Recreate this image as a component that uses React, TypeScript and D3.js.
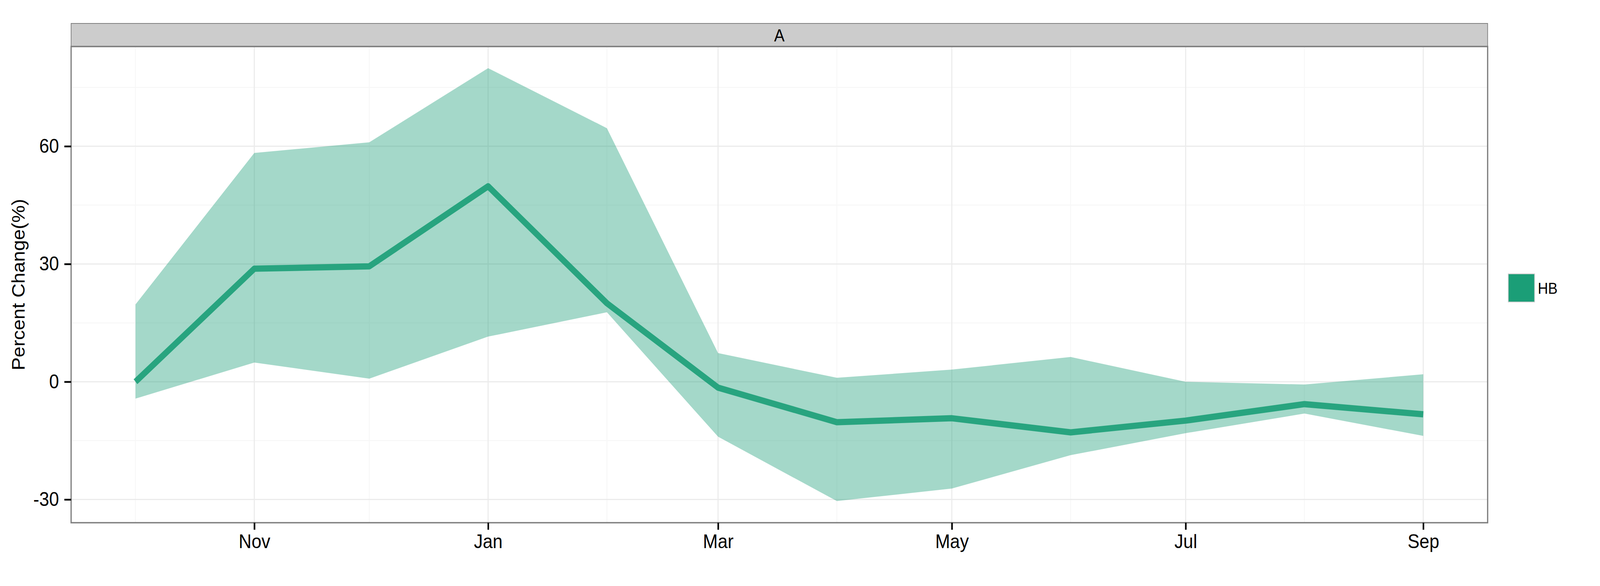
import { useEffect, useRef } from 'react';
import * as d3 from 'd3';

// monthly observations (first of each month)
const months = [
  '2011-10-01', '2011-11-01', '2011-12-01', '2012-01-01', '2012-02-01', '2012-03-01',
  '2012-04-01', '2012-05-01', '2012-06-01', '2012-07-01', '2012-08-01', '2012-09-01',
];
const meanChange = [0, 28.8, 29.4, 49.8, 20.0, -1.5, -10.3, -9.3, -12.9, -9.9, -5.7, -8.3];
const upperBound = [19.7, 58.3, 61.0, 79.9, 64.6, 7.3, 1.0, 3.1, 6.3, 0.0, -0.7, 1.9];
const lowerBound = [-4.3, 4.9, 0.8, 11.5, 17.7, -14.0, -30.4, -27.2, -18.7, -13.1, -8.1, -13.8];

const xMajorTicks = ['2011-11-01', '2012-01-01', '2012-03-01', '2012-05-01', '2012-07-01', '2012-09-01'];
const xMinorTicks = ['2011-10-01', '2011-12-01', '2012-02-01', '2012-04-01', '2012-06-01', '2012-08-01'];
const yMajorTicks = [-30, 0, 30, 60];
const yMinorTicks = [-15, 15, 45, 75];

const seriesName = 'HB';
const facetLabel = 'A';
const yTitle = 'Percent Change(%)';

const WIDTH = 4500;
const HEIGHT = 1500;
const FONT = '"Liberation Sans", Arial, Helvetica, sans-serif';
const FILL = '#1B9E77';

const toDate = (s: string) => new Date(s + 'T00:00:00Z');

export default function App() {
  const svgRef = useRef<SVGSVGElement>(null);

  useEffect(() => {
    if (!svgRef.current) return;
    const svg = d3.select(svgRef.current);
    svg.selectAll('*').remove();

    const panel = { left: 200, right: 4184, top: 119, bottom: 1338 };
    const stripTop = 60;

    const rows = months.map((m, i) => ({
      date: toDate(m),
      mean: meanChange[i],
      lo: lowerBound[i],
      hi: upperBound[i],
    }));

    // ggplot-style 5% expansion on both scales
    const [t0, t1] = d3.extent(rows, d => d.date) as [Date, Date];
    const tPad = (+t1 - +t0) * 0.05;
    const x = d3.scaleUtc()
      .domain([new Date(+t0 - tPad), new Date(+t1 + tPad)])
      .range([panel.left, panel.right]);

    const yMin = d3.min(lowerBound) as number;
    const yMax = d3.max(upperBound) as number;
    const yPad = (yMax - yMin) * 0.05;
    const y = d3.scaleLinear()
      .domain([yMin - yPad, yMax + yPad])
      .range([panel.bottom, panel.top]);

    svg.append('rect')
      .attr('width', WIDTH)
      .attr('height', HEIGHT)
      .attr('fill', '#ffffff');

    // grid
    const grid = svg.append('g');
    grid.selectAll('.ymin')
      .data(yMinorTicks)
      .enter()
      .append('line')
      .attr('x1', panel.left).attr('x2', panel.right)
      .attr('y1', d => y(d)).attr('y2', d => y(d))
      .attr('stroke', '#f7f7f7').attr('stroke-width', 2.5);
    grid.selectAll('.xmin')
      .data(xMinorTicks.map(toDate))
      .enter()
      .append('line')
      .attr('x1', d => x(d)).attr('x2', d => x(d))
      .attr('y1', panel.top).attr('y2', panel.bottom)
      .attr('stroke', '#f7f7f7').attr('stroke-width', 2.5);
    grid.selectAll('.ymaj')
      .data(yMajorTicks)
      .enter()
      .append('line')
      .attr('x1', panel.left).attr('x2', panel.right)
      .attr('y1', d => y(d)).attr('y2', d => y(d))
      .attr('stroke', '#ebebeb').attr('stroke-width', 3);
    grid.selectAll('.xmaj')
      .data(xMajorTicks.map(toDate))
      .enter()
      .append('line')
      .attr('x1', d => x(d)).attr('x2', d => x(d))
      .attr('y1', panel.top).attr('y2', panel.bottom)
      .attr('stroke', '#ebebeb').attr('stroke-width', 3);

    // ribbon
    const area = d3.area<typeof rows[0]>()
      .x(d => x(d.date))
      .y0(d => y(d.lo))
      .y1(d => y(d.hi));
    svg.append('path')
      .datum(rows)
      .attr('d', area)
      .attr('fill', FILL)
      .attr('fill-opacity', 0.4);

    // mean line
    const line = d3.line<typeof rows[0]>()
      .x(d => x(d.date))
      .y(d => y(d.mean));
    svg.append('path')
      .datum(rows)
      .attr('d', line)
      .attr('fill', 'none')
      .attr('stroke', FILL)
      .attr('stroke-opacity', 0.9)
      .attr('stroke-width', 16)
      .attr('stroke-linecap', 'butt')
      .attr('stroke-linejoin', 'round');

    // panel border
    svg.append('rect')
      .attr('x', panel.left)
      .attr('y', panel.top)
      .attr('width', panel.right - panel.left)
      .attr('height', panel.bottom - panel.top)
      .attr('fill', 'none')
      .attr('stroke', '#7f7f7f')
      .attr('stroke-width', 3.5);

    // facet strip
    svg.append('rect')
      .attr('x', panel.left)
      .attr('y', stripTop)
      .attr('width', panel.right - panel.left)
      .attr('height', panel.top - stripTop)
      .attr('fill', '#cccccc')
      .attr('stroke', '#7f7f7f')
      .attr('stroke-width', 2);
    svg.append('line')
      .attr('x1', panel.left).attr('x2', panel.right)
      .attr('y1', panel.top).attr('y2', panel.top)
      .attr('stroke', '#7f7f7f').attr('stroke-width', 3.5);
    svg.append('text')
      .attr('x', (panel.left + panel.right) / 2)
      .attr('y', 106)
      .attr('text-anchor', 'middle')
      .style('font-family', FONT)
      .style('font-size', '44px')
      .attr('fill', '#000')
      .text(facetLabel);

    // x axis
    const xAxis = d3.axisBottom(x)
      .tickValues(xMajorTicks.map(toDate))
      .tickFormat(d => d3.utcFormat('%b')(d as Date))
      .tickSize(18)
      .tickPadding(12);
    const gx = svg.append('g')
      .attr('transform', `translate(0,${panel.bottom})`)
      .call(xAxis);
    gx.select('.domain').remove();
    gx.selectAll('line').attr('stroke', '#000').attr('stroke-width', 4.5);
    gx.selectAll('text')
      .style('font-family', FONT)
      .style('font-size', '50px')
      .attr('fill', '#000');

    // y axis
    const yAxis = d3.axisLeft(y)
      .tickValues(yMajorTicks)
      .tickSize(19)
      .tickPadding(15);
    const gy = svg.append('g')
      .attr('transform', `translate(${panel.left},0)`)
      .call(yAxis);
    gy.select('.domain').remove();
    gy.selectAll('line').attr('stroke', '#000').attr('stroke-width', 4.5);
    gy.selectAll('text')
      .text(d => String(d))
      .style('font-family', FONT)
      .style('font-size', '50px')
      .attr('fill', '#000');

    // y title
    svg.append('text')
      .attr('transform', `translate(69,${(panel.top + panel.bottom) / 2}) rotate(-90)`)
      .attr('text-anchor', 'middle')
      .style('font-family', FONT)
      .style('font-size', '50px')
      .attr('fill', '#000')
      .text(yTitle);

    // legend
    const legend = svg.append('g').attr('transform', 'translate(4242,701)');
    legend.append('rect')
      .attr('width', 74)
      .attr('height', 72)
      .attr('fill', FILL)
      .attr('stroke', '#cccccc')
      .attr('stroke-width', 2);
    legend.append('text')
      .attr('x', 83)
      .attr('y', 51)
      .style('font-family', FONT)
      .style('font-size', '40px')
      .attr('fill', '#000')
      .text(seriesName);
  }, []);

  // fill the whole viewport so the 4500x1500 layout maps onto the photographed area
  return (
    <div style={{ width: '100vw', height: '100vh', overflow: 'hidden' }}>
      <style>{'html, body { margin: 0; padding: 0; overflow: hidden; }'}</style>
      <svg
        ref={svgRef}
        viewBox={`0 0 ${WIDTH} ${HEIGHT}`}
        preserveAspectRatio="none"
        style={{ display: 'block', width: '100%', height: '100%' }}
      />
    </div>
  );
}
